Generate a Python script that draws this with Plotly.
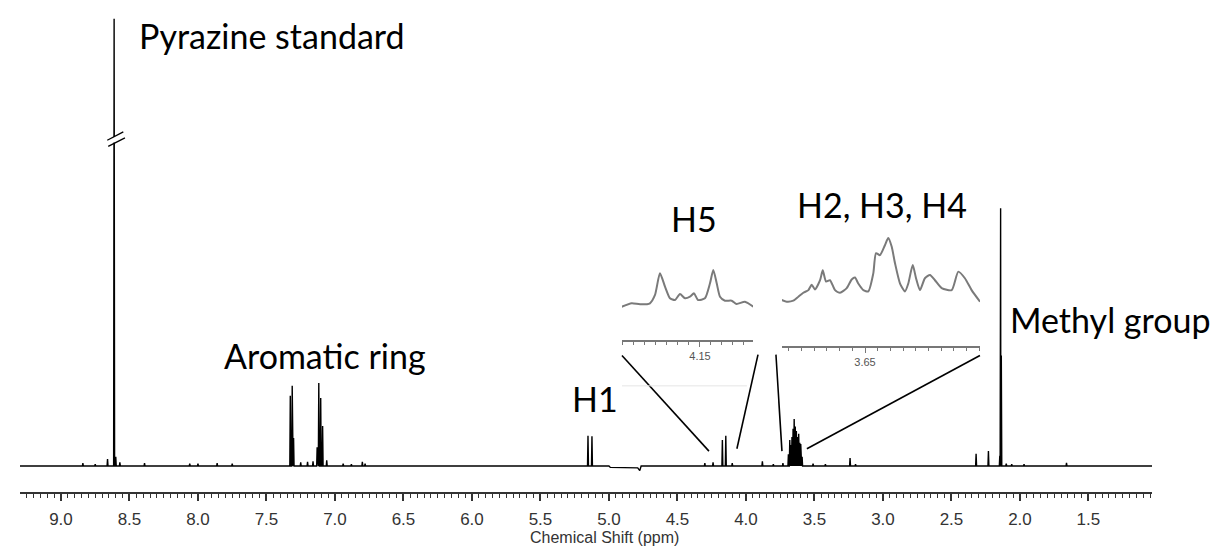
import plotly.graph_objects as go

# ---------------- main 1H NMR spectrum ----------------
# Resolved lines: chemical shift (ppm) and relative intensity
peak_ppm = [8.84, 8.75, 8.66, 8.612, 8.60, 8.57, 8.39, 8.06, 8.00, 7.86, 7.75,
            7.326, 7.312, 7.302, 7.25, 7.20, 7.16, 7.13, 7.118, 7.104, 7.090, 7.06,
            6.94, 6.88, 6.80, 6.78,
            5.153, 5.124,
            4.30, 4.24, 4.172, 4.147, 4.10,
            3.88, 3.80, 3.73, 3.69, 3.680, 3.672, 3.664, 3.656, 3.648, 3.640,
            3.632, 3.624, 3.615, 3.607, 3.600, 3.590, 3.51, 3.42, 3.24, 3.20,
            2.32, 2.23, 2.147, 2.141, 2.136, 2.10, 2.06, 1.97, 1.66]
peak_int = [0.6, 0.4, 1.5, 96.0, 2.0, 0.8, 0.6, 0.5, 0.5, 0.6, 0.5,
            15.1, 17.2, 6.0, 0.8, 0.9, 1.0, 4.0, 17.8, 14.6, 8.6, 1.2,
            0.5, 0.4, 0.9, 0.5,
            6.5, 6.4,
            0.6, 0.8, 5.6, 6.5, 0.6,
            1.0, 0.4, 0.6, 2.5, 5.6, 4.5, 6.2, 8.0, 10.1, 8.5,
            7.5, 6.2, 6.9, 5.0, 4.7, 2.0, 0.5, 0.4, 1.7, 0.4,
            2.6, 3.2, 2.2, 55.3, 23.7, 0.5, 0.4, 0.4, 0.7]

# Baseline level (residual water suppression region)
base_ppm = [9.36, 5.00, 4.99, 4.79, 4.775, 4.765, 0.98]
base_int = [0.0, 0.0, -0.3, -0.4, -1.0, 0.0, 0.0]

# ---------------- expanded regions ----------------
h5_ppm = [4.2212, 4.2121, 4.2045, 4.1955, 4.1909, 4.1864, 4.1818, 4.1773, 4.1727,
          4.1682, 4.1636, 4.1591, 4.1555, 4.1518, 4.1455, 4.1409, 4.1379, 4.1348,
          4.1318, 4.1273, 4.1212, 4.1167, 4.1091, 4.1015]
h5_int = [-4.9, 4.9, 2.0, 4.9, 28.6, 90.6, 52.3, 19.1, 14.3, 31.4, 19.1, 23.7,
          33.4, 14.3, 19.1, 62.0, 100.0, 62.0, 23.7, 12.3, 12.3, 2.9, 9.4, -4.9]

h234_ppm = [3.7156, 3.7117, 3.7065, 3.7025, 3.6986, 3.6946, 3.6920, 3.6894, 3.6854,
            3.6833, 3.6807, 3.6776, 3.6736, 3.6697, 3.6644, 3.6605, 3.6579, 3.6553,
            3.6513, 3.6474, 3.6435, 3.6413, 3.6382, 3.6343, 3.6317, 3.6290, 3.6264,
            3.6224, 3.6185, 3.6159, 3.6124, 3.6098, 3.6067, 3.6028, 3.5988, 3.5949,
            3.5896, 3.5817, 3.5765, 3.5713, 3.5660, 3.5594]
h234_int = [3, 0.5, 2, 8, 14, 18, 26, 19, 33, 48, 31, 33, 18, 14, 21, 34, 37, 28,
            18, 16, 43, 74, 71, 86, 97, 84, 59, 28, 16, 28, 56, 36, 18, 36, 41, 33,
            21, 18, 46, 36, 18, 0.5]

# Axis ranges
X_MAIN = [9.299, 1.036]
Y_MAIN = [-5.58, 100.0]
LINE_HW = 0.0035   # half-width of each drawn line (ppm)

# Assemble the spectrum trace from the baseline and the line list
pts = list(zip(base_ppm, base_int))
for p, h in zip(peak_ppm, peak_int):
    pts += [(p + LINE_HW, 0.0), (p, h), (p - LINE_HW, 0.0)]
pts.sort(key=lambda t: -t[0])
spec_x = [p for p, _ in pts]
spec_y = [v for _, v in pts]

fig = go.Figure()
fig.add_trace(go.Scatter(x=spec_x, y=spec_y, mode="lines",
                         line=dict(color="black", width=1.4),
                         xaxis="x", yaxis="y", hoverinfo="skip"))
fig.add_trace(go.Scatter(x=h5_ppm, y=h5_int, mode="lines",
                         line=dict(color="#7a7a7a", width=2, shape="spline", smoothing=0.6),
                         xaxis="x2", yaxis="y2", hoverinfo="skip"))
fig.add_trace(go.Scatter(x=h234_ppm, y=h234_int, mode="lines",
                         line=dict(color="#7a7a7a", width=2, shape="spline", smoothing=0.6),
                         xaxis="x3", yaxis="y3", hoverinfo="skip"))

inset_axis = dict(showline=True, linecolor="#777", linewidth=1.5, ticks="outside",
                  ticklen=5, tickwidth=1, tickcolor="#777", showgrid=False,
                  zeroline=False, tickfont=dict(family="Arial", size=11, color="#555"))

fig.update_layout(
    width=1223, height=547,
    margin=dict(l=20, r=71, t=0, b=55),
    paper_bgcolor="white", plot_bgcolor="white",
    showlegend=False,
    xaxis=dict(range=X_MAIN, domain=[0, 1], anchor="y",
               showline=True, linecolor="#333", linewidth=2,
               ticks="outside", tickmode="linear", tick0=0, dtick=0.5,
               ticklen=7, tickwidth=1.5, tickcolor="#333", tickformat=".1f",
               ticklabelstandoff=4,
               minor=dict(tickmode="linear", tick0=0, dtick=0.05, ticks="outside",
                          ticklen=4, tickwidth=1, tickcolor="#333"),
               showgrid=False, zeroline=False,
               tickfont=dict(family="Arial", size=17, color="#333")),
    yaxis=dict(range=Y_MAIN, domain=[0, 1], visible=False),
    xaxis2=dict(inset_axis, domain=[0.5318, 0.64753], anchor="y2",
                range=[4.2209, 4.1018], tickmode="array", tickvals=[4.15], ticktext=["4.15"],
                minor=dict(tickmode="linear", tick0=4.15, dtick=0.01, ticks="outside",
                           ticklen=3, tickwidth=1, tickcolor="#777")),
    yaxis2=dict(domain=[0.30894, 0.47154], range=[-100, 128.57], visible=False, anchor="x2"),
    xaxis3=dict(inset_axis, domain=[0.67314, 0.84806], anchor="y3",
                range=[3.7154, 3.5594], tickmode="array", tickvals=[3.65], ticktext=["3.65"],
                minor=dict(tickmode="linear", tick0=3.65, dtick=0.01, ticks="outside",
                           ticklen=3, tickwidth=1, tickcolor="#777")),
    yaxis3=dict(domain=[0.29675, 0.53659], range=[-66.67, 112.12], visible=False, anchor="x3"),
)

# Axis title under the shift scale
fig.add_annotation(text="Chemical Shift (ppm)", x=5.03, y=-0.093, xref="x", yref="paper",
                   xanchor="center", yanchor="middle", showarrow=False,
                   font=dict(family="Arial", size=16, color="#333"))

# Zoom guides from the expanded regions down to the multiplets
guides = [((4.905, 23.7), (4.270, 3.2)),
          ((3.912, 23.9), (4.066, 3.7)),
          ((3.781, 23.9), (3.737, 3.2)),
          ((2.292, 23.7), (3.555, 3.7))]
for (xa, ya), (xb, yb) in guides:
    fig.add_shape(type="line", xref="x", yref="y", x0=xa, y0=ya, x1=xb, y1=yb,
                  line=dict(color="black", width=1.6))
fig.add_shape(type="line", xref="x", yref="y", x0=4.905, y0=17.2, x1=3.993, y1=17.2,
              line=dict(color="#e6e6e6", width=1))

# Axis-break mark on the truncated reference peak
fig.add_shape(type="rect", xref="x", yref="y", x0=8.63, x1=8.59, y0=69.4, y1=70.6,
              line=dict(width=0), fillcolor="white")
fig.add_shape(type="line", xref="x", yref="y", x0=8.662, y0=69.9, x1=8.545, y1=71.7,
              line=dict(color="black", width=1.3))
fig.add_shape(type="line", xref="x", yref="y", x0=8.655, y0=68.6, x1=8.533, y1=70.4,
              line=dict(color="black", width=1.3))

# Signal assignments
labels = [("Pyrazine standard", 8.445, 92.3),
          ("Aromatic ring", 7.825, 23.7),
          ("H1", 5.285, 14.4),
          ("H5", 4.562, 53.1),
          ("H2, H3, H4", 3.642, 56.1),
          ("Methyl group", 2.088, 31.4)]
for txt, xp, yp in labels:
    fig.add_annotation(text=txt, x=xp, y=yp, xref="x", yref="y",
                       xanchor="left", yanchor="middle", showarrow=False,
                       font=dict(family="Lato", size=34, color="black"))

fig.write_html("out.html")
